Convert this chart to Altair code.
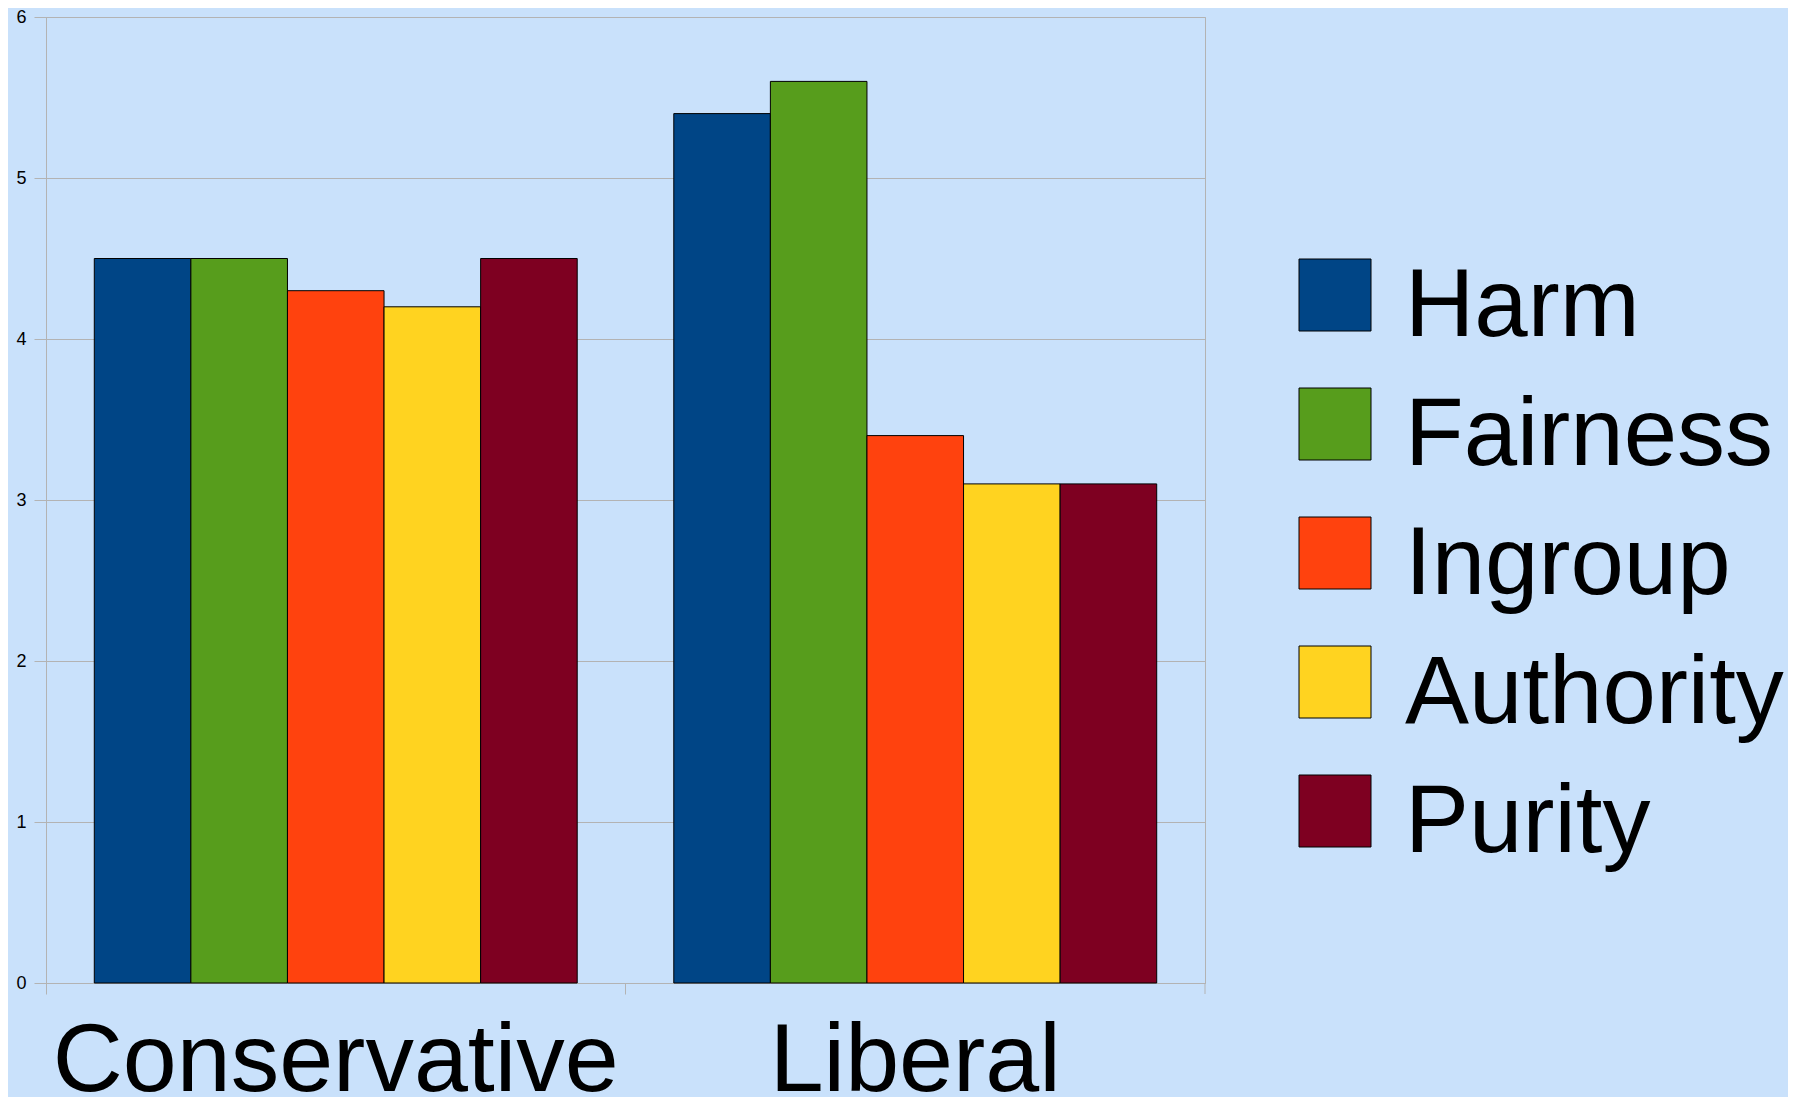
import altair as alt
import pandas as pd

groups = ["Conservative", "Liberal"]
foundations = ["Harm", "Fairness", "Ingroup", "Authority", "Purity"]
conservative_values = [4.5, 4.5, 4.3, 4.2, 4.5]
liberal_values = [5.4, 5.6, 3.4, 3.1, 3.1]
colors = ["#004586", "#579d1c", "#ff420e", "#ffd320", "#7e0021"]
y_ticks = [0, 1, 2, 3, 4, 5, 6]

rows = []
for g, vals in zip(groups, [conservative_values, liberal_values]):
    for f, v in zip(foundations, vals):
        rows.append({"group": g, "foundation": f, "value": v})
df = pd.DataFrame(rows)

FONT = "Liberation Sans"
GRAY = "#b3b3b3"
# square symbol raised a bit above the label's middle line
RAISED_SQUARE = "M-1,-1.333H1V0.667H-1Z"

x_enc = alt.X(
    "group:N",
    sort=groups,
    scale=alt.Scale(paddingInner=0, paddingOuter=0),
    axis=alt.Axis(
        title=None, labelAngle=0, labelFontSize=97, labelFont=FONT,
        labelBaseline="alphabetic", labelPadding=96, tickSize=11,
        bandPosition=0, tickColor=GRAY, domainColor=GRAY,
        labelColor="black", grid=False, labelLimit=0,
    ),
)

bars = alt.Chart(df).mark_bar(stroke="black", strokeWidth=1).encode(
    x=x_enc,
    xOffset=alt.XOffset(
        "foundation:N", sort=foundations,
        scale=alt.Scale(paddingInner=0, paddingOuter=0.5),
    ),
    y=alt.Y(
        "value:Q",
        scale=alt.Scale(domain=[0, 6], nice=False),
        axis=alt.Axis(
            title=None, values=y_ticks, format="d", labelFontSize=18,
            labelFont=FONT, labelPadding=8, tickSize=12, tickColor=GRAY,
            domainColor=GRAY, gridColor=GRAY, labelColor="black",
        ),
    ),
    color=alt.Color(
        "foundation:N", sort=foundations,
        scale=alt.Scale(domain=foundations, range=colors),
        legend=alt.Legend(
            title=None, orient="none", legendX=1241, legendY=242,
            symbolType=RAISED_SQUARE, symbolSize=5184,
            symbolStrokeColor="black", symbolStrokeWidth=1, symbolOpacity=1,
            labelFontSize=96, labelFont=FONT, labelColor="black",
            rowPadding=31, labelOffset=22, padding=0, labelLimit=0,
        ),
    ),
)

end_tick = alt.Chart(pd.DataFrame({"group": [groups[-1]]})).mark_rule(
    color=GRAY, strokeWidth=1
).encode(
    x=alt.X("group:N", sort=groups, bandPosition=1),
    y=alt.value(966),
    y2=alt.value(977),
)

chart = alt.layer(bars, end_tick).properties(
    width=1159,
    height=966,
    autosize=alt.AutoSizeParams(type="none"),
    padding={"left": 38, "top": 9, "right": 583, "bottom": 114},
    background="#c9e1fb",
).configure_view(stroke=GRAY)

chart.save("out.html", embed_options={"renderer": "svg", "actions": False})
